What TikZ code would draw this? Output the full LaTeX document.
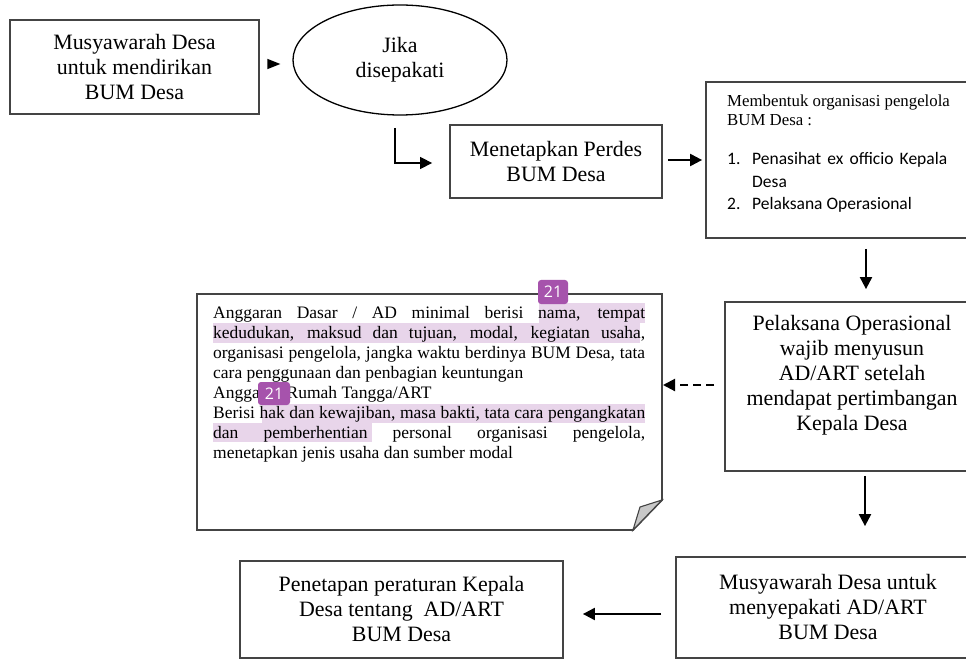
\documentclass[tikz,border=0pt]{standalone}
\usepackage{fontspec}
\setmainfont{Liberation Serif}
\newfontfamily\calibfont{Carlito}
\newfontfamily\badgefont{Open Sans}
\usetikzlibrary{shapes.geometric,arrows.meta}
\definecolor{boxline}{HTML}{444444}
\definecolor{hlcol}{HTML}{E8D5EA}
\definecolor{badgecol}{HTML}{A653AC}
\definecolor{foldcol}{HTML}{C8C8C8}
\newcommand\bigtxt{\fontsize{21.9}{25}\selectfont}
\newcommand\doctxt{\fontsize{17.5}{20}\selectfont}
\newcommand\membtxt{\fontsize{16.8}{19}\selectfont}
\newcommand\listtxt{\calibfont\fontsize{17.5}{22.5}\selectfont}
\begin{document}
\begin{tikzpicture}[x=1pt,y=-1pt,
  box/.style={draw=boxline, line width=1.8pt, rectangle, inner sep=0pt, align=center, font=\bigtxt},
  oval/.style={draw=black, line width=1.3pt, ellipse, inner sep=0pt, align=center, font=\bigtxt},
  arr/.style={-{Triangle[length=12pt,width=12pt]}, line width=2.1pt, black},
  hl/.style={fill=hlcol, draw=none},
  badge/.style={fill=badgecol, rounded corners=3pt, text=white, inner sep=0pt, font=\badgefont\fontsize{16}{16}\selectfont},
  plain/.style={inner sep=0pt, anchor=base west}
]
\fill[white] (0,0) rectangle (966,660);
\useasboundingbox (0,0) rectangle (966,660);

% boxes
\node[box, minimum width=249pt, minimum height=94pt] (musy1) at (134.5,67) {Musyawarah Desa\\untuk mendirikan\\BUM Desa};
\node[oval, minimum width=214pt, minimum height=110pt] (jika) at (400,60) {Jika\\disepakati};
\node[box, minimum width=212pt, minimum height=73pt] (perdes) at (556,161.5) {Menetapkan Perdes\\BUM Desa};
\node[box, minimum width=279pt, minimum height=156pt] (memb) at (845.5,160) {};
\node[box, minimum width=255pt, minimum height=169pt] (pelak) at (852.5,386.5) {};
\node[box, minimum width=304pt, minimum height=101pt] (musy2) at (828,607.5) {Musyawarah Desa untuk\\menyepakati AD/ART\\BUM Desa};
\node[box, minimum width=323pt, minimum height=97pt] (penet) at (401.5,609.5) {Penetapan peraturan Kepala\\Desa tentang\ \ AD/ART\\BUM Desa};

% Membentuk box content
\node[plain, font=\membtxt] (membT) at (727,107) {\begin{minipage}[t]{240pt}\parindent=0pt
Membentuk organisasi pengelola\\BUM Desa :\end{minipage}};
\node[plain, font=\listtxt] (membL) at (727,165) {\begin{minipage}[t]{240pt}\parindent=0pt
\makebox[25pt][l]{1.}\makebox[195pt][s]{Penasihat ex officio Kepala}\\
\hspace*{25pt}Desa\\
\makebox[25pt][l]{2.}Pelaksana Operasional\end{minipage}};

% Pelaksana text
\node[inner sep=0pt, align=center, font=\bigtxt] (pelakT) at (852,375) {Pelaksana Operasional\\wajib menyusun\\AD/ART setelah\\mendapat pertimbangan\\Kepala Desa};

% document box with folded corner
\draw[draw=boxline, line width=1.8pt, fill=white] (197,294) -- (662,294) -- (662,500) -- (633,530) -- (197,530) -- cycle;
\filldraw[draw=boxline, line width=1.1pt, fill=foldcol] (662,500) -- (640,507) -- (633,530) -- cycle;
\coordinate (docE) at (662,385);

% highlights
\fill[hlcol] (539,303) rectangle (645,323);
\fill[hlcol] (213,323) rectangle (640,343);
\fill[hlcol] (262,404) rectangle (645,423);
\fill[hlcol] (213,423) rectangle (372,442);

% document text
\node[plain, font=\doctxt] (adtext) at (213,318) {\begin{minipage}[t]{432pt}\parindent=0pt
\makebox[432pt][s]{Anggaran Dasar / AD minimal berisi nama, tempat}\par
\makebox[432pt][s]{kedudukan, maksud dan tujuan, modal, kegiatan usaha,}\par
\makebox[432pt][s]{organisasi pengelola, jangka waktu berdinya BUM Desa, tata}\par
\makebox[432pt][l]{cara penggunaan dan penbagian keuntungan}\par
\makebox[432pt][l]{Anggaran Rumah Tangga/ART}\par
\makebox[432pt][s]{Berisi hak dan kewajiban, masa bakti, tata cara pengangkatan}\par
\makebox[432pt][s]{dan pemberhentian personal organisasi pengelola,}\par
\makebox[432pt][l]{menetapkan jenis usaha dan sumber modal}\end{minipage}};

% badges
\node[badge, minimum width=30pt, minimum height=24pt] (badge1) at (553,292) {21};
\node[badge, minimum width=32pt, minimum height=23pt] (badge2) at (274,393.5) {21};

% connectors
\coordinate (elbowS) at (395,128);
\coordinate (colx) at (866,0);
\coordinate (colx2) at (865,0);
\draw[arr, line width=1.4pt, -{Triangle[length=13pt,width=10pt]}, shorten <=8pt, shorten >=12pt] ([yshift=3pt]musy1.east) -- ([yshift=3pt]musy1.east -| jika.west);
\draw[arr, line width=1.4pt, shorten >=17pt] (elbowS) |- ([yshift=-1.5pt]perdes.west);
\draw[arr, shorten <=5pt, shorten >=3pt] ([yshift=1.5pt]perdes.east) -- ([yshift=1.5pt]perdes.east -| memb.west);
\draw[arr, shorten <=10pt, shorten >=12pt] (memb.south -| colx) -- (pelak.north -| colx);
\draw[arr, shorten <=4pt, shorten >=30pt] (pelak.south -| colx2) -- (musy2.north -| colx2);
\draw[arr, dash pattern=on 8pt off 5pt, shorten <=10pt, shorten >=1pt] (pelak.west |- docE) -- (docE);
\draw[arr, shorten <=14pt, shorten >=19pt] ([yshift=-6.5pt]musy2.west) -- ([yshift=-6.5pt]musy2.west -| penet.east);
\end{tikzpicture}
\end{document}
